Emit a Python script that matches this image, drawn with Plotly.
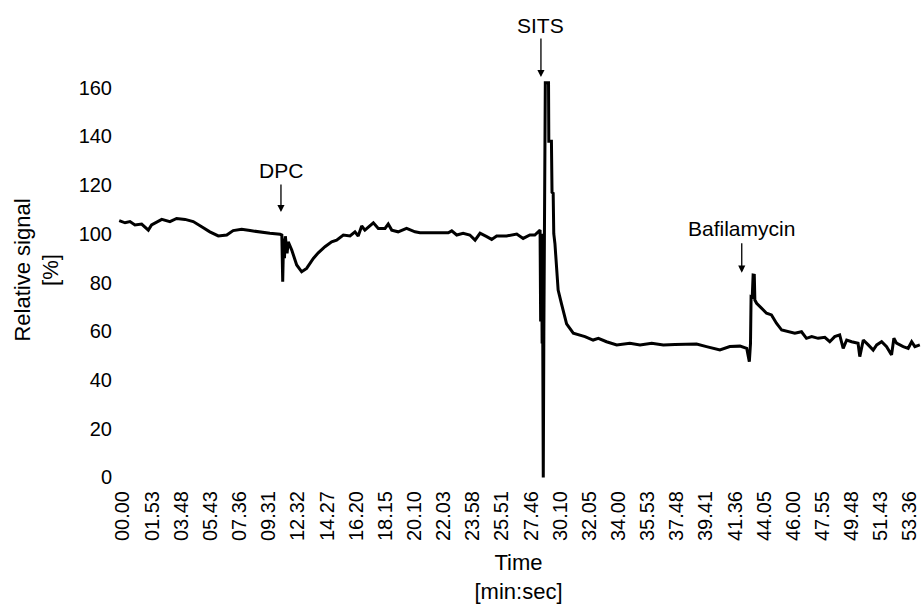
import plotly.graph_objects as go

# Tick labels (time stamps, min.sec) placed at positions 0..27
tick_labels = ["00.00", "01.53", "03.48", "05.43", "07.36", "09.31", "12.32", "14.27",
               "16.20", "18.15", "20.10", "22.03", "23.58", "25.51", "27.46", "30.10",
               "32.05", "34.00", "35.53", "37.48", "39.41", "41.36", "44.05", "46.00",
               "47.55", "49.48", "51.43", "53.36"]
y_ticks = [0, 20, 40, 60, 80, 100, 120, 140, 160]

# Trace position (in tick-label units) and relative signal [%]
pos = [-0.13, 0.07, 0.24, 0.41, 0.64, 0.87, 0.98, 1.33, 1.61, 1.84, 2.13, 2.41, 2.70, 2.98,
       3.27, 3.56, 3.78, 4.07, 4.36, 4.70, 5.04, 5.39, 5.45,
       5.48, 5.51, 5.54, 5.57, 5.63, 5.67, 5.79, 5.96, 6.13, 6.30, 6.53, 6.70, 6.93, 7.16,
       7.33, 7.56, 7.79, 7.96, 8.07, 8.19, 8.30, 8.42, 8.59, 8.76, 8.99, 9.10, 9.22, 9.44,
       9.73, 10.02, 10.19, 10.64, 11.16, 11.28, 11.45, 11.67, 11.90, 12.08, 12.25, 12.48,
       12.65, 12.82, 13.16, 13.51, 13.73, 13.96, 14.13, 14.31,
       14.33, 14.36, 14.38, 14.39, 14.42, 14.44, 14.47, 14.49, 14.60, 14.61, 14.70, 14.72,
       14.76, 14.78, 14.82, 14.87, 14.93, 15.05, 15.22, 15.45, 15.68, 15.85, 16.13, 16.31,
       16.59, 16.94, 17.39, 17.74, 18.14, 18.54, 18.94, 19.34, 19.68, 20.02, 20.48, 20.82,
       21.17, 21.40,
       21.45, 21.49, 21.53, 21.55, 21.59, 21.62, 21.66, 21.68, 21.74, 21.91, 22.08, 22.25,
       22.42, 22.60, 22.82, 23.05, 23.28, 23.45, 23.63, 23.85, 24.08, 24.25, 24.42, 24.59,
       24.71, 24.83, 25.00, 25.22, 25.28, 25.40, 25.57, 25.74, 25.86, 26.03, 26.20, 26.37,
       26.45, 26.54, 26.77, 26.94, 27.06, 27.17, 27.34]
signal = [105.4, 104.5, 105.0, 103.6, 104.0, 101.5, 103.6, 105.9, 105.0, 106.3, 105.9, 105.0,
          102.9, 100.8, 99.1, 99.5, 101.3, 101.8, 101.3, 100.6, 100.2, 99.8, 99.5,
          80.3, 98.0, 90.0, 99.0, 92.0, 96.7, 93.3, 87.2, 84.4, 85.8, 89.9, 92.2, 94.7, 96.7,
          97.4, 99.5, 99.1, 100.8, 99.1, 103.2, 101.5, 102.9, 104.5, 102.2, 102.2, 104.0,
          101.5, 100.8, 102.2, 100.8, 100.4, 100.4, 100.4, 101.2, 99.5, 100.2, 99.5, 97.4,
          100.2, 98.8, 97.7, 99.1, 99.1, 99.9, 98.1, 99.5, 99.5, 101.5,
          64.0, 100.0, 55.0, 96.0, 0.0, 60.0, 138.0, 162.0, 162.0, 138.0, 138.0, 117.0,
          116.6, 100.0, 96.0, 85.1, 76.9, 71.0, 63.0, 59.2, 58.5, 57.8, 56.4, 57.1,
          55.7, 54.4, 55.1, 54.4, 55.1, 54.4, 54.6, 54.8, 54.8, 53.7, 52.3, 53.7,
          53.9, 53.0,
          49.4, 47.5, 55.0, 74.2, 74.0, 83.1, 83.0, 72.8, 71.5, 69.4, 67.4, 66.7,
          63.3, 60.5, 59.8, 59.2, 59.8, 57.1, 57.8, 57.1, 57.5, 55.7, 57.8, 58.5,
          53.0, 56.4, 55.7, 55.1, 49.6, 56.4, 54.4, 52.3, 54.4, 55.7, 53.7, 50.3,
          57.1, 55.1, 53.7, 53.0, 55.7, 53.7, 54.4]

# Event markers: label, position, arrow tip value
events = ["DPC", "SITS", "Bafilamycin"]
event_pos = [5.42, 14.34, 21.23]
event_tip = [108.9, 164.3, 84.0]

FONT = "Liberation Sans, Arial, Helvetica, sans-serif"
FS_TICK = 20
FS_ANN = 21
FS_TITLE = 22

fig = go.Figure()
fig.add_trace(go.Scatter(x=pos, y=signal, mode="lines",
                         line=dict(color="black", width=3), hoverinfo="skip",
                         showlegend=False))

arrow_len = [-29, -40, -31]
text_dy = [42, 52, 44]
for name, xp, yt, al, dy in zip(events, event_pos, event_tip, arrow_len, text_dy):
    fig.add_annotation(x=xp, y=yt, xref="x", yref="y", text="", showarrow=True,
                       ax=0, ay=al, arrowhead=2, arrowsize=1.1, arrowwidth=1.3,
                       arrowcolor="black", standoff=0)
    fig.add_annotation(x=xp, y=yt, xref="x", yref="y", text=name, showarrow=False,
                       yshift=dy, font=dict(family=FONT, size=FS_ANN, color="black"))

fig.update_layout(
    width=922, height=609,
    margin=dict(l=116, r=1, t=60, b=129),
    paper_bgcolor="white", plot_bgcolor="white",
    font=dict(family=FONT, size=FS_TICK, color="black"),
    xaxis=dict(range=[-0.24, 27.38], tickmode="array",
               tickvals=list(range(len(tick_labels))), ticktext=tick_labels,
               tickangle=-90, showgrid=False, zeroline=False, showline=False,
               ticks="", tickfont=dict(size=FS_TICK), ticklabelstandoff=6,
               title=dict(text="Time<br>[min:sec]", font=dict(size=FS_TITLE), standoff=14)),
    yaxis=dict(range=[-1.03, 171.3], tickmode="array", tickvals=y_ticks,
               showgrid=False, zeroline=False, showline=False, ticks="",
               tickfont=dict(size=FS_TICK), ticklabelstandoff=3,
               title=dict(text="Relative signal<br>[%]", font=dict(size=FS_TITLE), standoff=13)),
)

fig.write_html("out.html")
